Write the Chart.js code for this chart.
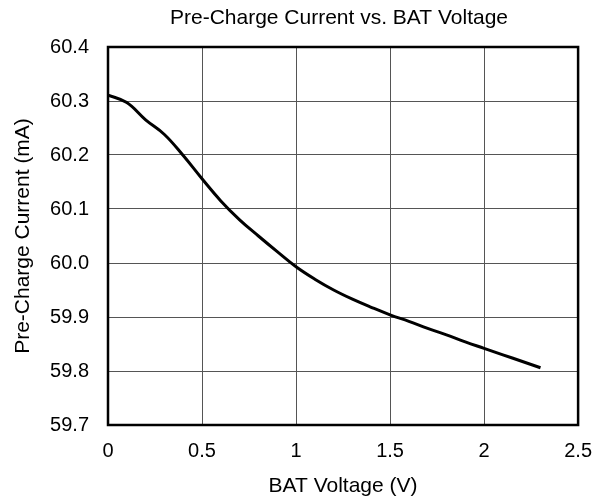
<!DOCTYPE html>
<html>
<head>
<meta charset="utf-8">
<script src="https://cdn.jsdelivr.net/npm/chart.js@4.4.0/dist/chart.umd.min.js"></script>
<style>
  html, body { margin: 0; padding: 0; background: #fff; }
  #wrap { width: 606px; height: 503px; }
</style>
</head>
<body>
<div id="wrap"><canvas id="myChart" width="606" height="503"></canvas></div>
<script>
// BAT voltage (V) and pre-charge current (mA)
var batVoltage = [0, 0.1, 0.2, 0.3, 0.4, 0.5, 0.6, 0.7, 0.8, 0.9, 1.0, 1.1, 1.2, 1.3, 1.4, 1.5, 1.6, 1.7, 1.8, 1.9, 2.0, 2.1, 2.2, 2.3];
var preCurrent = [60.311, 60.297, 60.265, 60.238, 60.199, 60.156, 60.115, 60.080, 60.050, 60.021, 59.993, 59.970, 59.950, 59.933, 59.918, 59.904, 59.892, 59.879, 59.867, 59.854, 59.842, 59.830, 59.818, 59.806];
var xTicks = [0, 0.5, 1, 1.5, 2, 2.5];
var yTicks = [59.7, 59.8, 59.9, 60.0, 60.1, 60.2, 60.3, 60.4];
var chartTitle = "Pre-Charge Current vs. BAT Voltage";

var FONT = "'Liberation Sans', Arial, sans-serif";

var points = [];
for (let i = 0; i < batVoltage.length; i++) {
    points.push({ x: batVoltage[i], y: preCurrent[i] });
}

// chart title and the heavy frame round the plot
const framePlugin = {
    id: 'frame',
    afterDraw(chart) {
        const a = chart.chartArea;
        const ctx = chart.ctx;
        ctx.save();
        ctx.strokeStyle = '#000';
        ctx.lineWidth = 2.5;
        ctx.strokeRect(a.left, a.top, a.right - a.left, a.bottom - a.top);
        ctx.fillStyle = '#000';
        ctx.font = '21px ' + FONT;
        ctx.textAlign = 'center';
        ctx.textBaseline = 'middle';
        ctx.fillText(chartTitle, 339, 18);
        ctx.restore();
    }
};

const config = {
    type: 'line',
    data: {
        datasets: [{
            data: points,
            borderColor: '#000',
            borderWidth: 3,
            pointRadius: 0,
            tension: 0.4,
            fill: false
        }]
    },
    options: {
        responsive: false,
        animation: false,
        layout: { padding: { top: 47, right: 26, left: 0, bottom: 0 } },
        plugins: { legend: { display: false }, tooltip: { enabled: false } },
        scales: {
            x: {
                type: 'linear',
                min: 0,
                max: 2.5,
                afterBuildTicks: function (s) { s.ticks = xTicks.map(v => ({ value: v })); },
                afterFit: function (s) { s.height = 78; },
                grid: { color: '#555', lineWidth: 1, drawTicks: false },
                border: { display: false },
                ticks: {
                    color: '#000',
                    padding: 14,
                    font: { family: FONT, size: 20 },
                    callback: function (v) { return String(v); }
                },
                title: {
                    display: true,
                    text: 'BAT Voltage (V)',
                    color: '#000',
                    font: { family: FONT, size: 21 },
                    padding: { top: 4, bottom: 4 }
                }
            },
            y: {
                type: 'linear',
                min: 59.7,
                max: 60.4,
                afterBuildTicks: function (s) { s.ticks = yTicks.map(v => ({ value: v })); },
                afterFit: function (s) { s.width = 108; },
                grid: { color: '#555', lineWidth: 1, drawTicks: false },
                border: { display: false },
                ticks: {
                    color: '#000',
                    padding: 19,
                    font: { family: FONT, size: 20 },
                    callback: function (v) { return v.toFixed(1); }
                },
                title: {
                    display: true,
                    text: 'Pre-Charge Current (mA)',
                    color: '#000',
                    font: { family: FONT, size: 21 },
                    padding: { top: 11, bottom: 0 }
                }
            }
        }
    },
    plugins: [framePlugin]
};

var myChart = new Chart(document.getElementById('myChart'), config);
</script>
</body>
</html>
